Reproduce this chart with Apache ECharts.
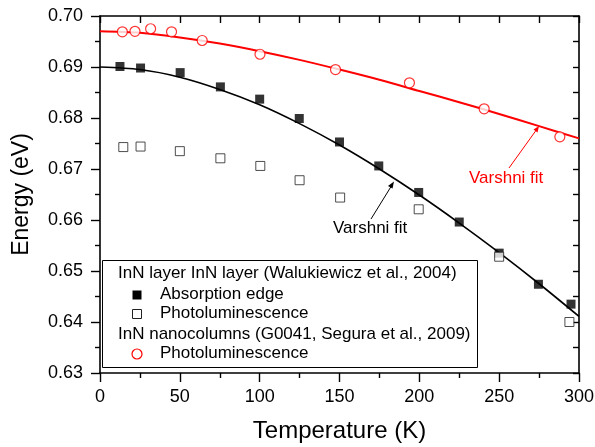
<!DOCTYPE html>
<html>
<head>
<meta charset="utf-8">
<script src="https://cdn.jsdelivr.net/npm/echarts@6/dist/echarts.min.js"></script>
<style>
  html, body { margin: 0; padding: 0; background: #fff; }
  #chart { width: 595px; height: 447px; }
</style>
</head>
<body>
<div id="chart"></div>
<script>
// Band-gap energy of InN versus temperature

// InN layer (Walukiewicz et al., 2004): absorption edge
var absT = [12.5, 25.4, 50.2, 75.4, 100, 124.8, 150, 174.6, 199.6, 225, 250, 274.6, 295];
var absE = [0.6901, 0.6898, 0.6889, 0.6861, 0.6837, 0.6799, 0.6753, 0.6706, 0.6654, 0.6596, 0.6535, 0.6474, 0.6435];

// InN layer (Walukiewicz et al., 2004): photoluminescence
var plLayerT = [14.6, 25.4, 50, 75.4, 100.4, 125, 150.4, 199.6, 250, 294];
var plLayerE = [0.6743, 0.6744, 0.6735, 0.6721, 0.6706, 0.6678, 0.6644, 0.6621, 0.6528, 0.6400];

// InN nanocolumns (G0041, Segura et al., 2009): photoluminescence
var plColT = [14, 21.9, 31.7, 44.8, 64, 100.2, 147.5, 193.8, 240.6, 288];
var plColE = [0.6969, 0.6970, 0.6975, 0.6969, 0.6952, 0.6925, 0.6895, 0.6869, 0.6818, 0.6763];

// Varshni fit curves, sampled along the drawn lines
var fitT = [0, 25, 50, 75, 100, 125, 150, 175, 200, 225, 250, 275, 300];
var fitLayerE = [0.6900, 0.6895, 0.6880, 0.6856, 0.6826, 0.6789, 0.6747, 0.6700, 0.6649, 0.6594, 0.6536, 0.6475, 0.6411];
var fitColE = [0.6970, 0.6967, 0.6958, 0.6946, 0.6931, 0.6914, 0.6895, 0.6875, 0.6853, 0.6831, 0.6808, 0.6784, 0.6760];

// Tick settings
var xTicks = { min: 0, max: 300, step: 50, topStep: 25 };
var yTicks = { min: 0.63, max: 0.70, step: 0.01, rightStep: 0.005 };

function pairs(xs, ys) {
  return xs.map(function (x, i) { return [x, ys[i]]; });
}

var FONT = "'Liberation Sans', Arial, sans-serif";
var chart = echarts.init(document.getElementById('chart'), null, { renderer: 'canvas' });

var axisLineStyle = { color: '#000', width: 1.6 };
var tickStyle = { color: '#000', width: 1.4 };

function legendText(x, y, text) {
  return {
    type: 'text', z: 21, x: x, y: y,
    style: { text: text, fill: '#000', font: '17px ' + FONT, verticalAlign: 'middle', align: 'left' }
  };
}

var option = {
  backgroundColor: '#fff',
  animation: false,
  textStyle: { fontFamily: FONT },
  grid: { left: 100, right: 16, top: 16, bottom: 74, containLabel: false, outerBoundsMode: 'none' },
  xAxis: [
    {
      type: 'value', position: 'bottom',
      min: xTicks.min, max: xTicks.max, interval: xTicks.step,
      axisLine: { show: true, onZero: false, lineStyle: axisLineStyle },
      axisTick: { show: true, inside: false, length: 9, lineStyle: tickStyle },
      minorTick: { show: true, splitNumber: 2, length: 5, lineStyle: tickStyle },
      axisLabel: { fontSize: 18, color: '#000', margin: 15, fontFamily: FONT, hideOverlap: false },
      splitLine: { show: false },
      name: 'Temperature (K)', nameLocation: 'middle', nameGap: 46,
      nameTextStyle: { fontSize: 24, color: '#000', fontFamily: FONT }
    },
    {
      type: 'value', position: 'top',
      min: xTicks.min, max: xTicks.max, interval: xTicks.topStep,
      axisLine: { show: true, onZero: false, lineStyle: axisLineStyle },
      axisTick: { show: true, inside: true, length: 7, lineStyle: tickStyle },
      axisLabel: { show: false },
      splitLine: { show: false }
    }
  ],
  yAxis: [
    {
      type: 'value', position: 'left',
      min: yTicks.min, max: yTicks.max, interval: yTicks.step,
      axisLine: { show: true, onZero: false, lineStyle: axisLineStyle },
      axisTick: { show: true, inside: false, length: 9, lineStyle: tickStyle },
      minorTick: { show: true, splitNumber: 2, length: 5, lineStyle: tickStyle },
      axisLabel: {
        fontSize: 18, color: '#000', margin: 17, fontFamily: FONT,
        formatter: function (v) { return v.toFixed(2); }
      },
      splitLine: { show: false },
      name: 'Energy (eV)', nameLocation: 'middle', nameGap: 67,
      nameTextStyle: { fontSize: 23, color: '#000', fontFamily: FONT }
    },
    {
      type: 'value', position: 'right',
      min: yTicks.min, max: yTicks.max, interval: yTicks.rightStep,
      axisLine: { show: true, onZero: false, lineStyle: axisLineStyle },
      axisTick: { show: true, inside: true, length: 6, lineStyle: tickStyle },
      axisLabel: { show: false },
      splitLine: { show: false }
    }
  ],
  series: [
    {
      name: 'Varshni fit (layer)', type: 'line', smooth: 0.3,
      data: pairs(fitT, fitLayerE), showSymbol: false, symbol: 'none',
      lineStyle: { color: '#000', width: 1.6 }, z: 2
    },
    {
      name: 'Varshni fit (nanocolumns)', type: 'line', smooth: 0.3,
      data: pairs(fitT, fitColE), showSymbol: false, symbol: 'none',
      lineStyle: { color: '#ff0000', width: 2 }, z: 2
    },
    {
      name: 'Absorption edge', type: 'scatter', symbol: 'rect', symbolSize: 9,
      data: pairs(absT, absE),
      itemStyle: { color: '#000' }, z: 4
    },
    {
      name: 'Photoluminescence (layer)', type: 'scatter', symbol: 'rect', symbolSize: 9,
      data: pairs(plLayerT, plLayerE),
      itemStyle: { color: '#fff', borderColor: '#222', borderWidth: 1 }, z: 5
    },
    {
      name: 'Photoluminescence (nanocolumns)', type: 'scatter', symbol: 'circle', symbolSize: 10,
      data: pairs(plColT, plColE),
      itemStyle: { color: '#fff', borderColor: '#ff0000', borderWidth: 1.2 }, z: 4
    }
  ],
  graphic: [
    // Fit annotations
    {
      type: 'line', z: 10,
      shape: { x1: 509, y1: 168, x2: 537, y2: 129 },
      style: { stroke: '#ff0000', lineWidth: 1 }
    },
    {
      type: 'polygon', z: 10,
      shape: { points: [[539, 126], [533.5, 129.5], [537.5, 132.5]] },
      style: { fill: '#ff0000' }
    },
    {
      type: 'text', z: 10, x: 469, y: 178,
      style: { text: 'Varshni fit', fill: '#ff0000', font: '17px ' + FONT, verticalAlign: 'middle' }
    },
    {
      type: 'line', z: 10,
      shape: { x1: 371, y1: 219, x2: 392, y2: 185 },
      style: { stroke: '#000', lineWidth: 1 }
    },
    {
      type: 'polygon', z: 10,
      shape: { points: [[394, 181.5], [388, 186], [392.5, 188.5]] },
      style: { fill: '#000' }
    },
    {
      type: 'text', z: 10, x: 333, y: 228,
      style: { text: 'Varshni fit', fill: '#000', font: '17px ' + FONT, verticalAlign: 'middle' }
    },
    // Legend box
    {
      type: 'rect', z: 20,
      shape: { x: 102.5, y: 260.5, width: 375, height: 107 },
      style: { fill: '#fff', stroke: '#000', lineWidth: 1 }
    },
    legendText(118, 273, 'InN layer InN layer (Walukiewicz et al., 2004)'),
    {
      type: 'rect', z: 21,
      shape: { x: 132.5, y: 290.5, width: 9, height: 9 },
      style: { fill: '#000' }
    },
    legendText(160, 294, 'Absorption edge'),
    {
      type: 'rect', z: 21,
      shape: { x: 132.5, y: 309.5, width: 9, height: 9 },
      style: { fill: '#fff', stroke: '#222', lineWidth: 1 }
    },
    legendText(160, 313, 'Photoluminescence'),
    legendText(118, 334, 'InN nanocolumns (G0041, Segura et al., 2009)'),
    {
      type: 'circle', z: 21,
      shape: { cx: 137, cy: 354, r: 5 },
      style: { fill: '#fff', stroke: '#ff0000', lineWidth: 1.2 }
    },
    legendText(160, 353, 'Photoluminescence')
  ]
};

chart.setOption(option);
</script>
</body>
</html>
